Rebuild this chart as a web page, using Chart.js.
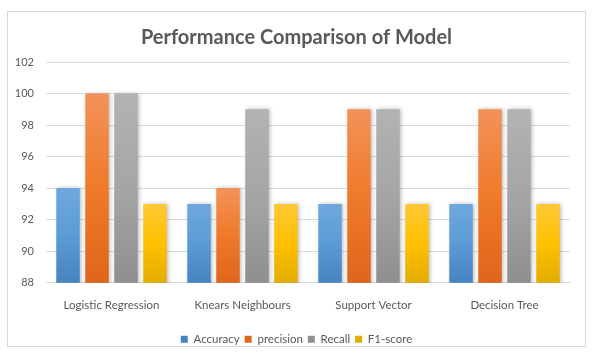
<!DOCTYPE html>
<html>
<head>
<meta charset="utf-8">
<script src="https://cdn.jsdelivr.net/npm/chart.js@4/dist/chart.umd.min.js"></script>
<style>
html,body{margin:0;padding:0;background:#fff;}
#wrap{position:absolute;left:0;top:0;width:593px;height:355px;}
</style>
</head>
<body>
<div id="wrap"><canvas id="c" width="593" height="355"></canvas></div>
<script>
const categories = ["Logistic Regression", "Knears Neighbours", "Support Vector", "Decision Tree"];
const accuracy = [94, 93, 93, 93];
const precision = [100, 94, 99, 99];
const recall = [100, 99, 99, 99];
const f1score = [93, 93, 93, 93];
const seriesNames = ["Accuracy", "precision", "Recall", "F1-score"];
const yTicks = [88, 90, 92, 94, 96, 98, 100, 102];

const palettes = [
  ["#6fa8de", "#5b9bd5", "#4683c2"],
  ["#f39259", "#ef7a2a", "#df651b"],
  ["#b3b3b3", "#a5a5a5", "#8f8f8f"],
  ["#ffc837", "#ffc000", "#e3ad00"]
];

function gradFor(idx) {
  return function (ctx) {
    const chart = ctx.chart;
    const p = palettes[idx];
    if (!chart.chartArea || ctx.type !== 'data') return p[1];
    const y = chart.scales.y;
    const top = y.getPixelForValue(ctx.raw);
    const bottom = y.getPixelForValue(y.min);
    if (!isFinite(top) || !isFinite(bottom) || bottom - top < 1) return p[1];
    const g = chart.ctx.createLinearGradient(0, top, 0, bottom);
    g.addColorStop(0, p[0]);
    g.addColorStop(0.5, p[1]);
    g.addColorStop(1, p[2]);
    return g;
  };
}

const frame = {
  id: 'frame',
  beforeDraw(chart) {
    const c = chart.ctx;
    c.save();
    c.fillStyle = '#ffffff';
    c.fillRect(0, 0, chart.width, chart.height);
    c.strokeStyle = '#d9d9d9';
    c.lineWidth = 1;
    c.strokeRect(7.5, 11.5, 578, 335);
    c.restore();
  },
  beforeDatasetsDraw(chart) {
    const c = chart.ctx;
    c.save();
    c.shadowColor = 'rgba(0,0,0,0.28)';
    c.shadowBlur = 4;
    c.shadowOffsetX = 1.5;
    c.shadowOffsetY = 0;
  },
  afterDatasetsDraw(chart) {
    chart.ctx.restore();
  }
};

const seriesData = [accuracy, precision, recall, f1score];

new Chart(document.getElementById('c'), {
  type: 'bar',
  data: {
    labels: categories,
    datasets: seriesData.map((d, i) => ({
      label: seriesNames[i],
      data: d,
      backgroundColor: gradFor(i),
      borderWidth: 0,
      categoryPercentage: 0.885,
      barPercentage: 0.81
    }))
  },
  options: {
    responsive: false,
    animation: false,
    devicePixelRatio: 1,
    layout: { padding: { left: 0, right: 0, top: 0, bottom: 0 } },
    plugins: {
      title: {
        display: true,
        text: 'Performance Comparison of Model',
        color: '#595959',
        font: { family: 'Lato', size: 20, weight: 'bold' },
        padding: { top: 26, bottom: 12 }
      },
      legend: {
        position: 'bottom',
        labels: {
          color: '#595959',
          font: { family: 'Lato', size: 11.5 },
          boxWidth: 7,
          boxHeight: 7,
          padding: 5
        }
      },
      tooltip: { enabled: false }
    },
    scales: {
      x: {
        grid: { display: false, drawTicks: false },
        border: { display: true, color: '#d9d9d9' },
        ticks: { color: '#595959', font: { family: 'Lato', size: 11.5 }, padding: 16 }
      },
      y: {
        min: 88,
        max: 102,
        afterBuildTicks(scale) { scale.ticks = yTicks.map(v => ({ value: v })); },
        afterFit(scale) { scale.width = 46; },
        grid: { color: '#d9d9d9', drawTicks: false },
        border: { display: false },
        ticks: { color: '#595959', font: { family: 'Lato', size: 11 }, padding: 12 }
      },
      yRight: {
        position: 'right',
        display: true,
        min: 88,
        max: 102,
        afterFit(scale) { scale.width = 23; },
        grid: { display: false, drawTicks: false },
        border: { display: false },
        ticks: { display: false }
      }
    }
  },
  plugins: [frame]
});
</script>
</body>
</html>
